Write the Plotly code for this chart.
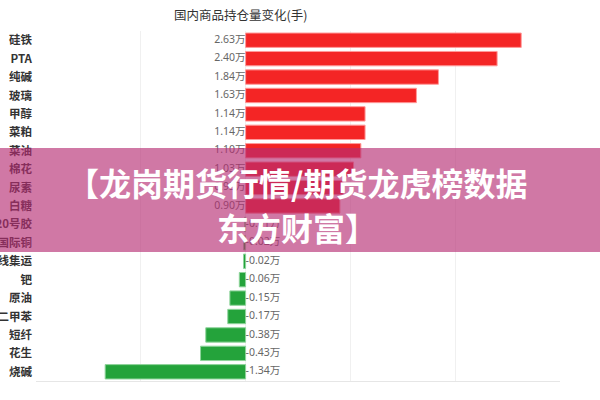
import plotly.graph_objects as go

categories = ["硅铁", "PTA", "纯碱", "玻璃", "甲醇", "菜粕", "菜油", "棉花", "尿素", "白糖",
              "20号胶", "国际铜", "欧线集运", "钯", "原油", "对二甲苯", "短纤", "花生", "烧碱"]
values = [2.63, 2.40, 1.84, 1.63, 1.14, 1.14, 1.10, 1.03, 0.93, 0.90,
          -0.01, -0.02, -0.02, -0.06, -0.15, -0.17, -0.38, -0.43, -1.34]
title_text = "国内商品持仓量变化(手)"
banner_lines = ["【龙岗期货行情/期货龙虎榜数据", "东方财富】"]

RED = "#f42525"
GREEN = "#24a33b"
colors = [RED if v >= 0 else GREEN for v in values]
line_colors = ["#ff9a9a" if v >= 0 else "#8fd49c" for v in values]
labels = [f"{v:.2f}万" for v in values]
positions = ["middle left" if v >= 0 else "middle right" for v in values]

L, R, T, B = 36, 40, 31, 19
PW, PH = 600 - L - R, 400 - T - B

fig = go.Figure()
fig.add_trace(go.Bar(
    y=categories, x=values, orientation="h", width=0.78,
    marker=dict(color=colors, line=dict(color=line_colors, width=1)),
    hoverinfo="skip", showlegend=False,
))
fig.add_trace(go.Scatter(
    y=categories, x=[0] * len(values), mode="text", text=labels,
    textposition=positions, textfont=dict(size=10.5, color="#666666",
                                          family="Noto Sans, Noto Sans CJK SC"),
    hoverinfo="skip", showlegend=False, cliponaxis=False,
))

fig.update_layout(
    width=600, height=400,
    margin=dict(l=L, r=R, t=T, b=B, autoexpand=False),
    paper_bgcolor="white", plot_bgcolor="white",
    font=dict(family="Noto Sans CJK SC", color="#333333"),
    xaxis=dict(range=[-2, 3], dtick=1, tick0=0, showticklabels=False,
               showgrid=True, gridcolor="#f0f0f0", gridwidth=1, zeroline=False,
               showline=True, linecolor="#e6e6e6", linewidth=1,
               fixedrange=True),
    yaxis=dict(range=[len(categories) - 0.5, -0.5], autorange=False,
               automargin=False, showgrid=False,
               tickfont=dict(size=11.5, color="#333333", weight=600,
                             family="Noto Sans CJK SC"),
               ticks="", ticklabelstandoff=3, showline=False),
)

fig.add_annotation(text=title_text, xref="paper", yref="paper",
                   x=(240 - L) / PW, y=(400 - B - 14) / PH,
                   xanchor="center", yanchor="middle", showarrow=False,
                   font=dict(size=12.5, color="#333333", family="Noto Sans CJK SC"))

# pink banner overlay
fig.add_shape(type="rect", xref="paper", yref="paper",
              x0=-L / PW - 0.01, x1=1 + R / PW + 0.01,
              y0=(400 - B - 252) / PH, y1=(400 - B - 148) / PH,
              fillcolor="rgba(181,44,114,0.64)", line=dict(width=0), layer="above")
for i, line in enumerate(banner_lines):
    fig.add_annotation(text=f"<b>{line}</b>", xref="paper", yref="paper",
                       x=(297 - L) / PW, y=(400 - B - (182 if i == 0 else 227)) / PH,
                       xanchor="center", yanchor="middle", showarrow=False,
                       font=dict(size=32, color="white", family="Noto Sans CJK SC"))

fig.write_html("out.html", config={"displayModeBar": False},
               post_script="document.body.style.margin='0';document.body.style.overflow='hidden';")
